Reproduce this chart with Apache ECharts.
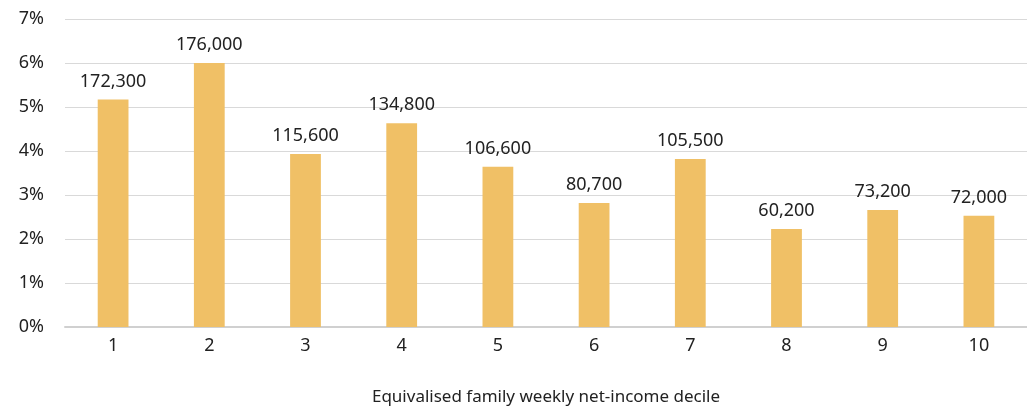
<!DOCTYPE html>
<html>
<head>
<meta charset="utf-8">
<script src="https://cdn.jsdelivr.net/npm/echarts@6/dist/echarts.min.js"></script>
<style>
  html, body { margin: 0; padding: 0; background: #fff; }
  #chart { width: 1027px; height: 407px; }
</style>
</head>
<body>
<div id="chart"></div>
<script>
// deciles, share (%) and number of people
var deciles = ['1', '2', '3', '4', '5', '6', '7', '8', '9', '10'];
var shares = [5.17, 6.0, 3.93, 4.63, 3.64, 2.82, 3.82, 2.23, 2.66, 2.53];
var people = ['172,300', '176,000', '115,600', '134,800', '106,600', '80,700', '105,500', '60,200', '73,200', '72,000'];

var font = 'Noto Sans';
var chart = echarts.init(document.getElementById('chart'));
chart.setOption({
    backgroundColor: '#ffffff',
    animation: false,
    grid: { left: 65, right: 0, top: 19, bottom: 80, outerBoundsMode: 'none' },
    xAxis: {
        type: 'category',
        data: deciles,
        name: 'Equivalised family weekly net-income decile',
        nameLocation: 'middle',
        nameGap: 62,
        nameTextStyle: { fontFamily: font, fontSize: 17, color: '#222' },
        axisLine: { lineStyle: { color: '#d0d0d0', width: 2 } },
        axisTick: { show: false },
        axisLabel: { fontFamily: font, fontSize: 18, color: '#222', margin: 10 }
    },
    yAxis: {
        type: 'value',
        min: 0,
        max: 7,
        interval: 1,
        axisLine: { show: false },
        axisTick: { show: false },
        splitLine: { lineStyle: { color: '#d9d9d9', width: 1 } },
        axisLabel: {
            fontFamily: font, fontSize: 18, color: '#222', margin: 21,
            formatter: function (v) { return v + '%'; }
        }
    },
    series: [{
        type: 'bar',
        data: shares,
        barWidth: '32%',
        itemStyle: { color: '#F0C066' },
        label: {
            show: true,
            position: 'top',
            distance: 9,
            fontFamily: font,
            fontSize: 18,
            color: '#222',
            formatter: function (p) { return people[p.dataIndex]; }
        }
    }]
});
</script>
</body>
</html>
